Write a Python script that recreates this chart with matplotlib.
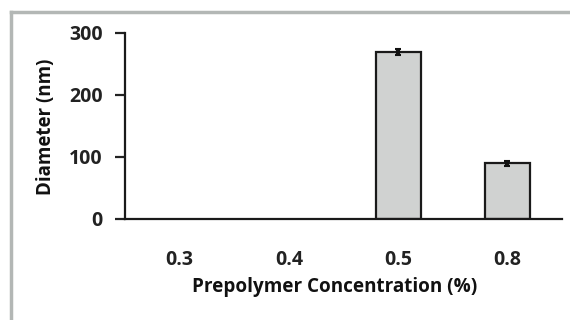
import matplotlib.pyplot as plt
from matplotlib.lines import Line2D

categories = ["0.3", "0.4", "0.5", "0.8"]
diameters = [0, 0, 270, 90]
errors = [0, 0, 5, 4]

plt.rcParams["font.family"] = ["Open Sans", "DejaVu Sans"]
plt.rcParams["font.weight"] = "bold"

fig = plt.figure(figsize=(5.7, 3.2), dpi=100)
ax = fig.add_axes([125 / 570, 1 - 219 / 320, (562 - 125) / 570, (219 - 33) / 320])

x = range(len(categories))
show = [d > 0 for d in diameters]
ax.bar([i for i in x if show[i]], [d for d, s in zip(diameters, show) if s],
       width=0.41, color="#d0d2d1", edgecolor="#1a1a1a", linewidth=1.6, zorder=2)
ax.errorbar([i for i in x if show[i]], [d for d, s in zip(diameters, show) if s],
            yerr=[e for e, s in zip(errors, show) if s], fmt="none",
            ecolor="#111111", elinewidth=3, capsize=2, capthick=1.5, zorder=3)

ax.set_xlim(-0.5, 3.5)
ax.set_ylim(0, 300)
ax.set_yticks([0, 100, 200, 300])
ax.set_xticks(list(x))
ax.set_xticklabels(categories)
ax.tick_params(axis="x", length=0, pad=22, labelsize=14, colors="#222222")
ax.tick_params(axis="y", length=7, width=1.6, pad=9, labelsize=14, colors="#222222")
for lab in ax.get_xticklabels() + ax.get_yticklabels():
    lab.set_fontweight("bold")

for side in ["top", "right"]:
    ax.spines[side].set_visible(False)
for side in ["left", "bottom"]:
    ax.spines[side].set_linewidth(1.6)
    ax.spines[side].set_color("#1a1a1a")

ax.set_xlabel("Prepolymer Concentration (%)", fontsize=13.6, fontweight="bold",
              color="#111111")
ax.xaxis.set_label_coords((335 - 125) / 437, -(287 - 219) / 186)
ax.xaxis.label.set_va("center")
ax.set_ylabel("Diameter (nm)", fontsize=13.5, fontweight="bold", color="#111111")
ax.yaxis.set_label_coords(-(125 - 46) / 437, (219 - 127) / 186)
ax.yaxis.label.set_va("center")

# grey frame around the panel (top and left edges)
fig.add_artist(Line2D([11 / 570, 1], [1 - 12 / 320, 1 - 12 / 320],
                      transform=fig.transFigure, color="#b3b7b5", linewidth=2.5))
fig.add_artist(Line2D([11 / 570, 11 / 570], [0, 1 - 12 / 320],
                      transform=fig.transFigure, color="#b3b7b5", linewidth=2.5))

fig.savefig("out.png", dpi=100)
